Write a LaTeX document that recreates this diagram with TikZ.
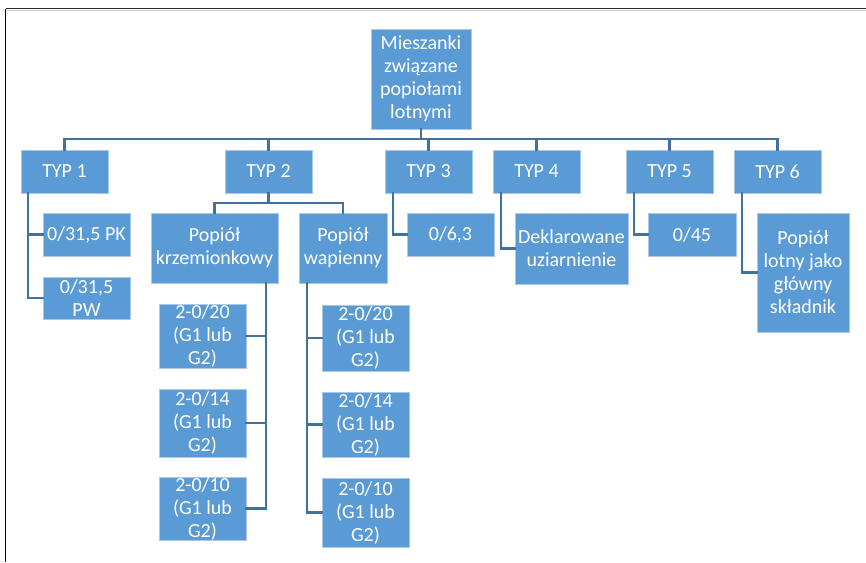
\documentclass[tikz,border=0pt]{standalone}
\usepackage{fontspec}
\setmainfont{Carlito}
\definecolor{boxfill}{HTML}{5B9BD5}
\definecolor{boxedge}{HTML}{A9C9EA}
\definecolor{linkcol}{HTML}{41719C}
\begin{document}
\begin{tikzpicture}[x=1pt,y=-1pt,
  box/.style={rectangle, fill=boxfill, draw=boxedge, line width=0.6pt,
    inner sep=0pt, text=white, align=center,
    font=\fontsize{20}{23}\selectfont},
  conn/.style={draw=linkcol, line width=2.2pt, line cap=rect},
  frameline/.style={line width=1.3pt}]
\useasboundingbox (0,0) rectangle (866,562);
% outer frame (top and left edges only)
\draw[frameline, black!85] (5.5,8.5) -- (866,8.5);
\draw[line width=0.8pt, black!20] (6,10) -- (866,10);
\draw[frameline, black] (5.5,8.5) -- (5.5,562);

% root
\node[box, minimum width=100, minimum height=100] (root) at (421,79)
  {Mieszanki\\związane\\popiołami\\lotnymi};

% level 1
\foreach \n/\cx in {1/64.5,2/268.5,3/428.5,4/536.5,5/669.5,6/777.5}
  \node[box, minimum width=87, minimum height=43] (t\n) at (\cx,171.5) {TYP \n};

% level 2
\node[box, minimum width=87, minimum height=43] (a1) at (86.5,234.5) {0/31,5 PK};
\node[box, minimum width=87, minimum height=42] (a2) at (86.5,298) {0/31,5\\PW};
\node[box, minimum width=127, minimum height=70] (pk) at (214.5,248) {Popiół\\krzemionkowy};
\node[box, minimum width=88, minimum height=70] (pw) at (343,248) {Popiół\\wapienny};
\node[box, minimum width=87, minimum height=43] (c1) at (450.5,234.5) {0/6,3};
\node[box, minimum width=113, minimum height=71] (d1) at (571.5,248.5) {Deklarowane\\uziarnienie};
\node[box, minimum width=88, minimum height=43] (e1) at (692,234.5) {0/45};
\node[box, minimum width=92, minimum height=119] (f1) at (803,272.5) {Popiół\\lotny jako\\główny\\składnik};

% level 3
\node[box, minimum width=87, minimum height=64] (k1) at (202.5,336) {2-0/20\\(G1 lub\\G2)};
\node[box, minimum width=87, minimum height=68] (k2) at (202.5,423) {2-0/14\\(G1 lub\\G2)};
\node[box, minimum width=87, minimum height=61] (k3) at (202.5,508.5) {2-0/10\\(G1 lub\\G2)};
\node[box, minimum width=87, minimum height=66] (w1) at (365.5,338) {2-0/20\\(G1 lub\\G2)};
\node[box, minimum width=87, minimum height=65] (w2) at (365.5,424.5) {2-0/14\\(G1 lub\\G2)};
\node[box, minimum width=87, minimum height=69] (w3) at (365.5,512.5) {2-0/10\\(G1 lub\\G2)};

% root to types
\coordinate (bus) at (0,139);
\draw[conn] (root.south) -- (root.south |- bus);
\draw[conn] (t1.north) -- (t1.north |- bus) -- (t6.north |- bus) -- (t6.north);
\foreach \n in {2,3,4,5} \draw[conn] (t\n.north) -- (t\n.north |- bus);

% TYP 1
\draw[conn] ([xshift=7]t1.south west) |- (a1.west);
\draw[conn] ([xshift=7]t1.south west) |- (a2.west);

% TYP 2
\coordinate (bustwo) at (0,203);
\draw[conn] (t2.south) -- (t2.south |- bustwo);
\draw[conn] (pk.north) -- (pk.north |- bustwo) -- (pw.north |- bustwo) -- (pw.north);
\foreach \i in {1,2,3} {
  \draw[conn] ([xshift=-12]pk.south east) |- (k\i.east);
  \draw[conn] ([xshift=8]pw.south west) |- (w\i.west);
}

% TYP 3 to 6
\draw[conn] ([xshift=8]t3.south west) |- (c1.west);
\draw[conn] ([xshift=8]t4.south west) |- (d1.west);
\draw[conn] ([xshift=8]t5.south west) |- (e1.west);
\draw[conn] ([xshift=8]t6.south west) |- (f1.west);
\end{tikzpicture}
\end{document}
